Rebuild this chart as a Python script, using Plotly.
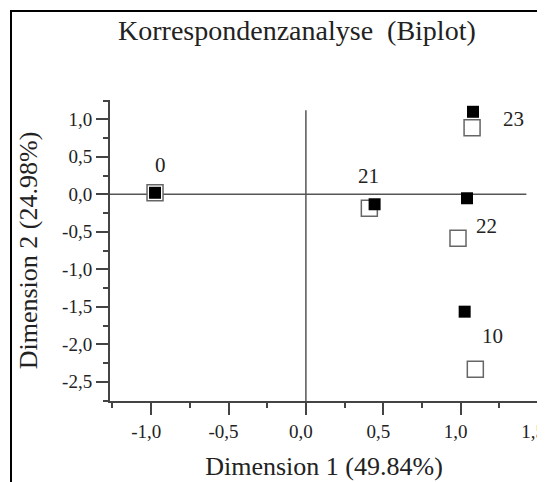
import plotly.graph_objects as go

# Data
labels = ["0", "21", "22", "23", "10"]
dim1_filled = [-0.975, 0.444, 1.041, 1.080, 1.026]
dim2_filled = [0.02, -0.133, -0.053, 1.10, -1.565]
dim1_open = [-0.975, 0.41, 0.983, 1.074, 1.095]
dim2_open = [0.02, -0.187, -0.587, 0.888, -2.333]
# label pixel offsets relative to filled point (x right, y up)
label_dx = [5, -6, 20, 40, 28]
label_dy = [28, 28, -28, -7, -24]

x_ticks = [-1.0, -0.5, 0.0, 0.5, 1.0, 1.5]
x_tick_labels = ["-1,0", "-0,5", "0,0", "0,5", "1,0", "1,5"]
y_ticks = [1.0, 0.5, 0.0, -0.5, -1.0, -1.5, -2.0, -2.5]
y_tick_labels = ["1,0", "0,5", "0,0", "-0,5", "-1,0", "-1,5", "-2,0", "-2,5"]
x_range = [-1.266, 1.5]
y_range = [-2.756, 1.257]

FONT = "Liberation Serif"
TXT = "#222222"
AX = "#444444"

fig = go.Figure()

fig.add_trace(go.Scatter(
    x=dim1_open, y=dim2_open, mode="markers",
    marker=dict(symbol="square", size=16, color="white",
                line=dict(color="#666666", width=1.5)),
    hoverinfo="skip", showlegend=False, cliponaxis=False))

fig.add_trace(go.Scatter(
    x=dim1_filled, y=dim2_filled, mode="markers",
    marker=dict(symbol="square", size=12, color="black",
                line=dict(color="black", width=0)),
    hoverinfo="skip", showlegend=False, cliponaxis=False))

for lab, x, y, dx, dy in zip(labels, dim1_filled, dim2_filled, label_dx, label_dy):
    fig.add_annotation(x=x, y=y, text=lab, showarrow=False,
                       xshift=dx, yshift=dy,
                       font=dict(family=FONT, size=21, color=TXT))

# reference lines through origin
fig.add_shape(type="line", x0=x_range[0], x1=1.425, y0=0, y1=0,
              line=dict(color="#555555", width=1.5), layer="below")
fig.add_shape(type="line", x0=0, x1=0, y0=y_range[0], y1=1.12,
              line=dict(color="#555555", width=1.5), layer="below")

# outer frame
fig.add_shape(type="rect", xref="paper", yref="paper",
              x0=-0.2313, x1=1.06, y0=-0.35, y1=1.2957,
              line=dict(color="black", width=2))

axis_common = dict(
    showgrid=False, zeroline=False, showline=True, linecolor=AX, linewidth=2,
    ticks="outside", ticklen=12, tickwidth=1.5, tickcolor=AX,
    tickfont=dict(family=FONT, size=19, color=TXT),
    ticklabeloverflow="allow",
    automargin=False,
    minor=dict(ticks="outside", ticklen=5, tickwidth=1.5, tickcolor=AX, dtick=0.25, showgrid=False),
)

fig.update_layout(
    width=537, height=474,
    margin=dict(l=102, r=7, t=92, b=81),
    paper_bgcolor="white", plot_bgcolor="white",
    title=dict(text="Korrespondenzanalyse  (Biplot)", x=0.538, xref="container",
               xanchor="center", y=0.9536, yref="container", yanchor="middle",
               font=dict(family=FONT, size=28, color=TXT)),
    xaxis=dict(range=x_range, tickvals=x_ticks, ticktext=x_tick_labels,
               ticklabelshift=-5,
               title=dict(text="Dimension 1 (49.84%)", standoff=16,
                          font=dict(family=FONT, size=26, color=TXT)),
               **axis_common),
    yaxis=dict(range=y_range, tickvals=y_ticks, ticktext=y_tick_labels,
               title=dict(text="Dimension 2 (24.98%)", standoff=17,
                          font=dict(family=FONT, size=26, color=TXT)),
               **axis_common),
)

fig.write_html("out.html")
